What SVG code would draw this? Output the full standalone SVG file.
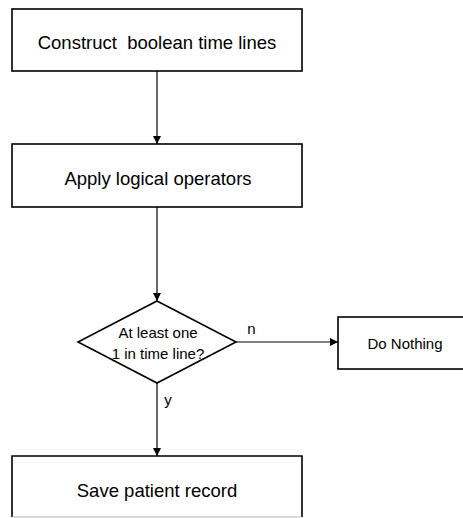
<svg xmlns="http://www.w3.org/2000/svg" width="463" height="518" viewBox="0 0 463 518">
  <style>
    .box { fill: #fff; stroke: #000; stroke-width: 1.6; }
    .edge { fill: none; stroke: #000; stroke-width: 1.2; }
    .lbl { font-family: "Liberation Sans", Arial, sans-serif; fill: #000; text-anchor: middle; }
    .big { font-size: 18.5px; }
    .small { font-size: 15px; }
  </style>
  <defs>
    <marker id="arrow" viewBox="0 0 10 10" refX="10" refY="5" markerWidth="8" markerHeight="8" markerUnits="userSpaceOnUse" orient="auto">
      <path d="M0,0 L10,5 L0,10 Z" fill="#000"/>
    </marker>
  </defs>
  <rect width="463" height="518" fill="#fff"/>

  <g id="connectors">
    <line class="edge" x1="157" y1="71" x2="157" y2="144" marker-end="url(#arrow)"/>
    <line class="edge" x1="157" y1="207" x2="157" y2="301" marker-end="url(#arrow)"/>
    <line class="edge" x1="236" y1="342" x2="338" y2="342" marker-end="url(#arrow)"/>
    <line class="edge" x1="157" y1="383" x2="157" y2="456" marker-end="url(#arrow)"/>
    <text class="lbl small" x="251.5" y="334">n</text>
    <text class="lbl small" x="168" y="405">y</text>
  </g>

  <g id="construct">
    <rect class="box" x="12" y="9" width="290" height="62"/>
    <text class="lbl big" x="157" y="49" xml:space="preserve">Construct  boolean time lines</text>
  </g>

  <g id="apply">
    <rect class="box" x="12" y="144" width="290" height="63"/>
    <text class="lbl big" x="158" y="185">Apply logical operators</text>
  </g>

  <g id="decision">
    <polygon class="box" points="157,301 236,342 157,383 78,342"/>
    <text class="lbl small" x="158" y="338">At least one</text>
    <text class="lbl small" x="158" y="359">1 in time line?</text>
  </g>

  <g id="do-nothing">
    <rect class="box" x="338" y="317" width="140" height="52"/>
    <text class="lbl small" x="405" y="349">Do Nothing</text>
  </g>

  <g id="save">
    <path d="M12,517 L12,456 L302,456 L302,517" fill="#fff" stroke="#000" stroke-width="1.6"/>
    <line x1="12" y1="517" x2="302" y2="517" stroke="#b0b0b0" stroke-width="1.2"/>
    <text class="lbl big" x="157" y="497">Save patient record</text>
  </g>
</svg>
